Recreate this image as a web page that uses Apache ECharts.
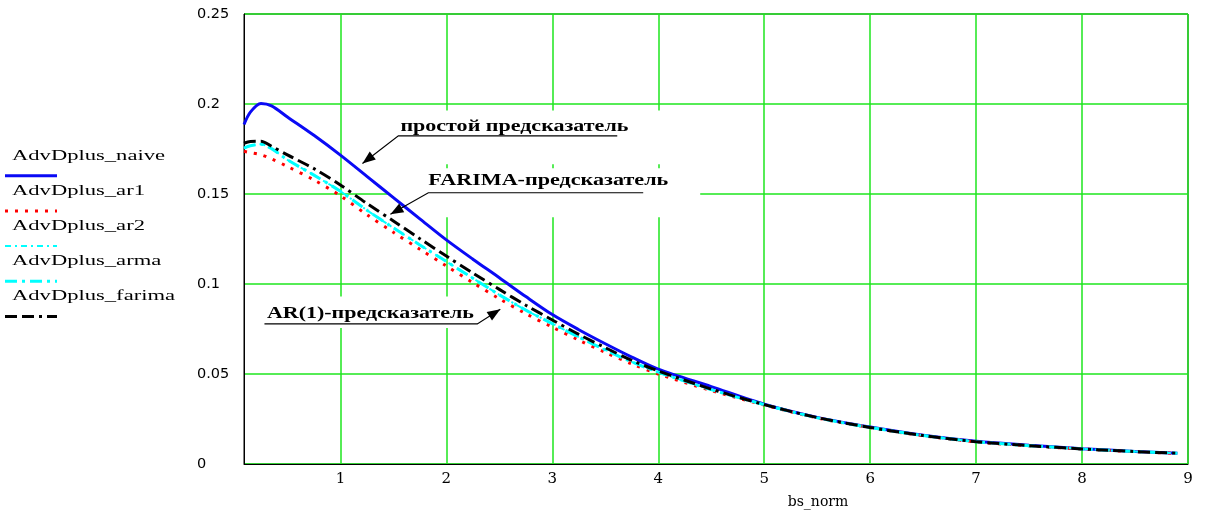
<!DOCTYPE html>
<html><head><meta charset="utf-8">
<script src="https://cdn.jsdelivr.net/npm/echarts@6/dist/echarts.min.js"></script>
<style>html,body{margin:0;padding:0;background:#fff}#c{width:1208px;height:514px}</style>
</head><body><div id="c"></div>
<script>
// ---- data ----
const xValues = [0.09, 0.15, 0.25, 0.35, 0.5, 0.75, 1.0, 1.25, 1.5, 1.75, 2.0, 2.25, 2.5, 2.75, 3.0, 3.25, 3.5, 3.75, 4.0, 4.5, 5.0, 5.5, 6.0, 6.5, 7.0, 7.5, 8.0, 8.5, 8.9];
const naive  = [0.1886, 0.1955, 0.2003, 0.1990, 0.1928, 0.1826, 0.1716, 0.1598, 0.1480, 0.1362, 0.1245, 0.1138, 0.1035, 0.0930, 0.0830, 0.0746, 0.0668, 0.0594, 0.0527, 0.0430, 0.0332, 0.0259, 0.0205, 0.0160, 0.0126, 0.0104, 0.0085, 0.0070, 0.0060];
const ar1    = [0.1737, 0.1730, 0.1718, 0.1695, 0.1653, 0.1578, 0.1490, 0.1385, 0.1287, 0.1193, 0.1100, 0.1007, 0.0918, 0.0835, 0.0760, 0.0688, 0.0620, 0.0556, 0.0500, 0.0408, 0.0328, 0.0256, 0.0202, 0.0157, 0.0123, 0.0101, 0.0083, 0.0068, 0.0059];
const ar2    = [0.1755, 0.1768, 0.1777, 0.1752, 0.1690, 0.1605, 0.1515, 0.1410, 0.1312, 0.1217, 0.1125, 0.1032, 0.0940, 0.0855, 0.0780, 0.0705, 0.0634, 0.0567, 0.0510, 0.0413, 0.0330, 0.0257, 0.0203, 0.0158, 0.0124, 0.0102, 0.0084, 0.0069, 0.0060];
const arma   = [0.1755, 0.1768, 0.1777, 0.1752, 0.1690, 0.1605, 0.1515, 0.1410, 0.1312, 0.1217, 0.1125, 0.1032, 0.0940, 0.0855, 0.0780, 0.0705, 0.0634, 0.0567, 0.0510, 0.0413, 0.0330, 0.0257, 0.0203, 0.0158, 0.0124, 0.0102, 0.0084, 0.0069, 0.0060];
const farima = [0.1782, 0.1792, 0.1793, 0.1765, 0.1717, 0.1641, 0.1550, 0.1447, 0.1350, 0.1252, 0.1155, 0.1061, 0.0970, 0.0882, 0.0800, 0.0720, 0.0646, 0.0576, 0.0517, 0.0416, 0.0330, 0.0258, 0.0203, 0.0158, 0.0124, 0.0102, 0.0084, 0.0069, 0.0060];
const xTicks = [1, 2, 3, 4, 5, 6, 7, 8, 9];
const seriesNames = ['AdvDplus_naive', 'AdvDplus_ar1', 'AdvDplus_ar2', 'AdvDplus_arma', 'AdvDplus_farima'];
const xName = 'bs_norm';
const annoTexts = ['простой предсказатель', 'FARIMA-предсказатель', 'AR(1)-предсказатель'];
// annotation anchors in data coordinates
const annoAnchors = [
  {label: [2.642, 0.1877], path: [[3.613, 0.1823], [1.547, 0.1823], [1.208, 0.167]], box: [[1.547, 0.1964], [4.396, 0.1665]], w: 228},
  {label: [2.962, 0.1572], path: [[3.858, 0.1507], [1.830, 0.1507], [1.472, 0.1387]], box: [[1.45, 0.1643], [4.396, 0.1371]], w: 240},
  {label: [1.283, 0.0838], path: [[0.283, 0.0778], [2.292, 0.0778], [2.509, 0.0860]], box: [[0.198, 0.0930], [2.368, 0.0756]], w: 207}
];

// ---- styles ----
const styles = [
  {color: '#0a0af5', width: 3, type: 'solid'},
  {color: '#ff0000', width: 3, type: [3, 7]},
  {color: '#00ffff', width: 2, type: [6, 4, 2, 4]},
  {color: '#00ffff', width: 3, type: [12, 5, 3, 5]},
  {color: '#000000', width: 3, type: [12, 5, 12, 5, 3, 5]}
];
const green = '#1ee61e';
const allData = [naive, ar1, ar2, arma, farima];

const chart = echarts.init(document.getElementById('c'));
const series = allData.map((d, i) => ({
  name: seriesNames[i],
  type: 'line',
  showSymbol: false,
  smooth: 0.3,
  z: 3 + i,
  lineStyle: {color: styles[i].color, width: styles[i].width, type: styles[i].type, cap: 'butt'},
  data: xValues.map((x, k) => [x, d[k]])
}));

chart.setOption({
  animation: false,
  backgroundColor: '#fff',
  grid: {left: 244, top: 14, right: 20, bottom: 40, show: true, borderColor: '#000', borderWidth: 1, backgroundColor: 'transparent'},
  xAxis: {
    type: 'value', min: 0.09, max: 9,
    name: xName, nameLocation: 'middle', nameGap: 31,
    nameTextStyle: {fontFamily: 'DejaVu Serif', fontSize: 14, color: '#000', padding: [0, 0, 0, 204]},
    axisLine: {onZero: false, lineStyle: {color: '#000', width: 1}},
    axisTick: {show: false, customValues: xTicks},
    axisLabel: {customValues: xTicks, fontFamily: 'DejaVu Serif', fontSize: 15, color: '#000', margin: 8},
    splitLine: {show: true, lineStyle: {color: green, width: 1.5}}
  },
  yAxis: {
    type: 'value', min: 0, max: 0.25, interval: 0.05,
    axisLine: {show: true, lineStyle: {color: '#000', width: 1}},
    axisTick: {show: false},
    axisLabel: {fontFamily: 'DejaVu Sans', fontSize: 14.5, color: '#000', align: 'left', margin: 47},
    splitLine: {show: true, lineStyle: {color: green, width: 1.5}}
  },
  series: series
});

// ---- text measuring ----
const ctx = document.createElement('canvas').getContext('2d');
function textW(s, font) { ctx.font = font; return ctx.measureText(s).width; }

const graphics = [];
// legend (left side)
const legFont = '14px "Liberation Serif"';
const legScale = 153 / textW(seriesNames[0], legFont);
seriesNames.forEach((n, i) => {
  const ty = 156 + i * 35.2;
  const ly = 175.7 + i * 35.2;
  graphics.push({type: 'text', x: 12, y: ty, scaleX: legScale, z: 20,
    style: {text: n, font: legFont, fill: '#000', align: 'left', verticalAlign: 'middle'}});
  graphics.push({type: 'line', z: 20, shape: {x1: 5, y1: ly, x2: 57, y2: ly},
    style: {stroke: styles[i].color, lineWidth: styles[i].width, lineDash: styles[i].type === 'solid' ? null : styles[i].type, lineCap: 'butt'}});
});

// annotations
const annoFont = 'bold 17px "Liberation Serif"';
function px(p) { return chart.convertToPixel({gridIndex: 0}, p); }
annoAnchors.forEach((a, i) => {
  const b0 = px(a.box[0]), b1 = px(a.box[1]);
  graphics.push({type: 'rect', z: 1, shape: {x: b0[0], y: b0[1], width: b1[0] - b0[0], height: b1[1] - b0[1]},
    style: {fill: '#fff'}});
  const pts = a.path.map(px);
  graphics.push({type: 'polyline', z: 20, shape: {points: pts}, style: {stroke: '#000', lineWidth: 1.2, fill: null}});
  const tip = pts[pts.length - 1], prev = pts[pts.length - 2];
  const dx = tip[0] - prev[0], dy = tip[1] - prev[1];
  const L = Math.hypot(dx, dy), ux = dx / L, uy = dy / L;
  const len = 13, hw = 5;
  const bx = tip[0] - ux * len, by = tip[1] - uy * len;
  graphics.push({type: 'polygon', z: 21, shape: {points: [tip, [bx - uy * hw, by + ux * hw], [bx + uy * hw, by - ux * hw]]},
    style: {fill: '#000'}});
  const c = px(a.label);
  const sx = a.w / textW(annoTexts[i], annoFont);
  graphics.push({type: 'text', x: c[0], y: c[1], scaleX: sx, z: 22,
    style: {text: annoTexts[i], font: annoFont, fill: '#000', align: 'center', verticalAlign: 'middle'}});
});

chart.setOption({graphic: graphics});
</script>
</body></html>
